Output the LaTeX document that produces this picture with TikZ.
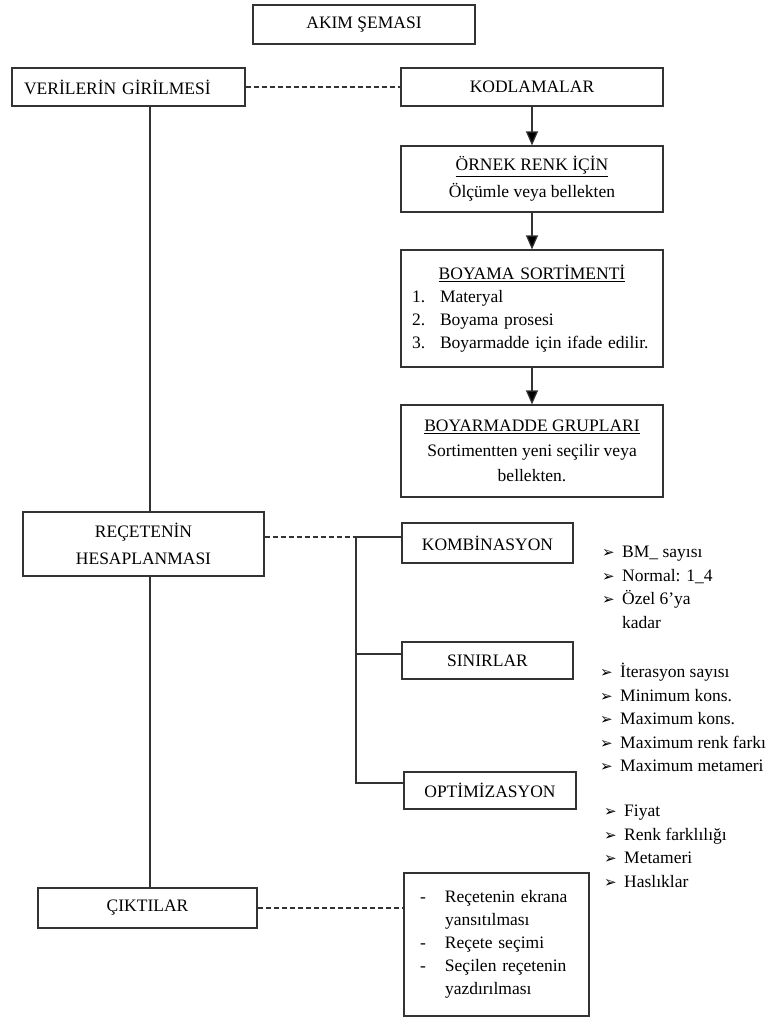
\documentclass[tikz,border=0pt]{standalone}
\usepackage{fontspec}
\setmainfont{Liberation Serif}
\newfontfamily\dingfont{DejaVu Sans}
\usetikzlibrary{arrows.meta}

\tikzset{
  kutu/.style={draw=black!80, line width=1.2pt, inner sep=0pt, align=center,
    font=\fontsize{17.5}{23}\selectfont},
  bag/.style={draw=black!80, line width=1.2pt},
  kesik/.style={bag, dash pattern=on 5pt off 3pt},
  ok/.style={bag, -{Triangle[length=14pt,width=12pt,fill=black]}},
  liste/.style={inner sep=0pt, align=left, anchor=north west,
    font=\fontsize{17.5}{23.5}\selectfont},
}
\newcommand{\madde}{\makebox[20pt][l]{\dingfont\fontsize{15}{15}\selectfont ➢}}
\newcommand{\tire}{\makebox[25pt][l]{-}}

\begin{document}
\begin{tikzpicture}[x=1pt,y=-1pt]
  \useasboundingbox (0,0) rectangle (773,1020);

  \node[kutu, minimum width=222pt, minimum height=39pt] (baslik) at (364,24.5) {AKIM ŞEMASI};
  \node[kutu, minimum width=233pt, minimum height=38pt, text width=209pt, align=left] (veri) at (128.5,87) {VERİLERİN GİRİLMESİ};
  \node[kutu, minimum width=262pt, minimum height=38pt] (kod) at (532,87) {KODLAMALAR};
  \node[kutu, minimum width=262pt, minimum height=66pt, font=\fontsize{17.5}{27}\selectfont] (ornek) at (532,179)
    {\underline{ÖRNEK RENK İÇİN}\\Ölçümle veya bellekten};
  \node[kutu, minimum width=262pt, minimum height=117pt, text width=240pt, align=left] (boyama) at (532,308.5)
    {\makebox[240pt]{\underline{BOYAMA SORTİMENTİ}}\\
     \makebox[28pt][l]{1.}Materyal\\
     \makebox[28pt][l]{2.}Boyama prosesi\\
     \makebox[28pt][l]{3.}Boyarmadde için ifade edilir.};
  \node[kutu, minimum width=262pt, minimum height=92pt, font=\fontsize{17.5}{25}\selectfont] (grup) at (532,451)
    {\underline{BOYARMADDE GRUPLARI}\\Sortimentten yeni seçilir veya\\bellekten.};

  \node[kutu, minimum width=241pt, minimum height=64pt, font=\fontsize{17.5}{27}\selectfont] (recete) at (143.5,544)
    {REÇETENİN\\HESAPLANMASI};
  \node[kutu, minimum width=171pt, minimum height=40pt] (kombin) at (487.5,543) {KOMBİNASYON};
  \node[kutu, minimum width=171pt, minimum height=37pt] (sinir) at (487.5,660.5) {SINIRLAR};
  \node[kutu, minimum width=172pt, minimum height=37pt] (optim) at (490,790.5) {OPTİMİZASYON};

  \node[kutu, minimum width=219pt, minimum height=40pt] (cikti) at (147.5,908) {ÇIKTILAR};
  \node[kutu, minimum width=185pt, minimum height=143pt, text width=153pt, align=left] (cikis) at (496.5,944.5)
    {\tire Reçetenin ekrana\\
     \hspace*{25pt}yansıtılması\\
     \tire Reçete seçimi\\
     \tire Seçilen reçetenin\\
     \hspace*{25pt}yazdırılması};

  % madde listeleri
  \node[liste] (lst1) at (602,546)
    {\madde BM\_ sayısı\\\madde Normal: 1\_4\\\madde Özel 6’ya\\\hspace*{20pt}kadar};
  \node[liste] (lst2) at (600,663)
    {\madde İterasyon sayısı\\\madde Minimum kons.\\\madde Maximum kons.\\\madde Maximum renk farkı\\\madde Maximum metameri};
  \node[liste] (lst3) at (604,805)
    {\madde Fiyat\\\madde Renk farklılığı\\\madde Metameri\\\madde Haslıklar};

  \coordinate (kol) at (356,537);
  \coordinate (kolorta) at (356,654);
  \coordinate (kolalt) at (356,783);

  \draw[kesik] (veri) -- (kod);
  \draw[ok] (kod) -- (ornek);
  \draw[ok] (ornek) -- (boyama);
  \draw[ok] (boyama) -- (grup);

  \draw[bag] ([xshift=21.5pt]veri.south) -- ([xshift=6.5pt]recete.north);
  \draw[bag] ([xshift=6.5pt]recete.south) -- ([xshift=2.5pt]cikti.north);

  \draw[kesik] ([yshift=7pt]recete.east) -- (kol);
  \draw[bag] (kol) -- (kol -| kombin.west);
  \draw[bag] (kol) -- (kolalt) -- (kolalt -| optim.west);
  \draw[bag] (kolorta) -- (kolorta -| sinir.west);

  \draw[kesik] (cikti.east) -- (cikti.east -| cikis.west);

\end{tikzpicture}
\end{document}
